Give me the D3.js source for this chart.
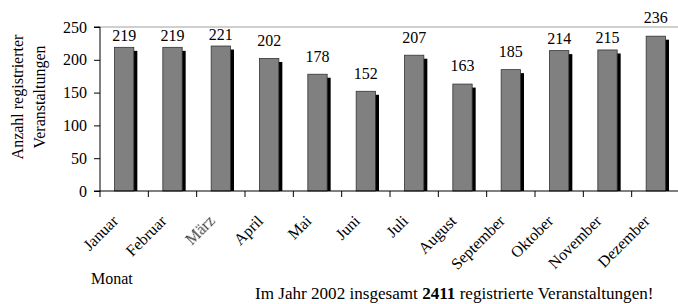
<!DOCTYPE html>
<html>
<head>
<meta charset="utf-8">
<script src="https://cdn.jsdelivr.net/npm/d3@7"></script>
<style>
  body { margin: 0; background: #fff; }
  svg text { font-family: "Liberation Serif", "Times New Roman", serif; fill: #000; }
</style>
</head>
<body>
<div id="chart"></div>
<script>
const months = ["Januar", "Februar", "März", "April", "Mai", "Juni", "Juli",
  "August", "September", "Oktober", "November", "Dezember"];
const counts = [219, 219, 221, 202, 178, 152, 207, 163, 185, 214, 215, 236];
const yTicks = [0, 50, 100, 150, 200, 250];
const total = 2411;

//dimension margins
const W = 678, H = 304;
const margin = {top: 27, right: -2, bottom: 113, left: 100};
const width = W - margin.left - margin.right;
const height = H - margin.top - margin.bottom;

const svg = d3.select("#chart")
  .append("svg")
  .attr("width", W)
  .attr("height", H)
  .attr("font-family", "Liberation Serif, serif");

// blur used for the fuzzy "März" label
const defs = svg.append("defs");
defs.append("filter").attr("id", "fuzz")
  .append("feGaussianBlur").attr("stdDeviation", 0.6);

const g = svg.append("g")
  .attr("transform", `translate(${margin.left},${margin.top})`);

//scales
const x = d3.scaleBand()
  .domain(months)
  .range([0, width]);

const y = d3.scaleLinear()
  .domain([0, 250])
  .range([height, 0]);

const barW = x.bandwidth() * 0.4;
const shadow = 3.5;

// top gridline
g.append("line")
  .attr("x1", 0).attr("x2", width)
  .attr("y1", y(250)).attr("y2", y(250))
  .attr("stroke", "#a0a0a0").attr("stroke-width", 1);

// shadows
g.selectAll(".shadow")
  .data(counts)
  .enter().append("rect")
  .attr("class", "shadow")
  .attr("x", (d, i) => x(months[i]) + (x.bandwidth() - barW) / 2 + shadow)
  .attr("y", d => y(d) + shadow)
  .attr("width", barW)
  .attr("height", d => height - y(d) - shadow)
  .attr("fill", "#000");

// bars
g.selectAll(".bar")
  .data(counts)
  .enter().append("rect")
  .attr("class", "bar")
  .attr("x", (d, i) => x(months[i]) + (x.bandwidth() - barW) / 2)
  .attr("y", d => y(d))
  .attr("width", barW)
  .attr("height", d => height - y(d))
  .attr("fill", "#808080")
  .attr("stroke", "#333")
  .attr("stroke-width", 0.8);

// value labels (pushed under the top line when they would cross it)
g.selectAll(".val")
  .data(counts)
  .enter().append("text")
  .attr("class", "val")
  .attr("x", (d, i) => x(months[i]) + x.bandwidth() / 2)
  .attr("y", d => {
    const b = y(d) - 12.7;
    return (b > y(250) - 1 && b - 11 < y(250)) ? y(d) - 6.5 : b;
  })
  .attr("text-anchor", "middle")
  .style("font-size", "16px")
  .text(d => d);

// y axis
const yAxis = g.append("g")
  .call(d3.axisLeft(y).tickValues(yTicks).tickSize(6).tickPadding(7));
yAxis.attr("font-family", null).attr("font-size", null);
yAxis.select(".domain").attr("d", `M-6,${y(250)}H0V${height}`);
yAxis.selectAll("text").style("font-size", "16px");

// x axis: ticks at band boundaries
const xAxis = g.append("g")
  .attr("transform", `translate(0,${height})`);
xAxis.append("line")
  .attr("x1", -6).attr("x2", width)
  .attr("stroke", "#000").attr("stroke-width", 1.2);
xAxis.selectAll(".tk")
  .data(months)
  .enter().append("line")
  .attr("x1", d => x(d)).attr("x2", d => x(d))
  .attr("y1", 0).attr("y2", 6)
  .attr("stroke", "#000");
xAxis.selectAll(".lab")
  .data(months)
  .enter().append("text")
  .attr("transform", d => `translate(${x(d) + x.bandwidth() / 2 - 5},${31}) rotate(-45)`)
  .attr("text-anchor", "end")
  .style("font-size", "16px")
  .attr("filter", d => d === "März" ? "url(#fuzz)" : null)
  .style("fill", d => d === "März" ? "#444" : "#000")
  .text(d => d);

// y axis title
const yt = svg.append("text")
  .attr("transform", "translate(0,97) rotate(-90)")
  .attr("text-anchor", "middle")
  .style("font-size", "16px");
yt.append("tspan").attr("x", 0).attr("y", 23).text("Anzahl registrierter");
yt.append("tspan").attr("x", 0).attr("y", 45).text("Veranstaltungen");

// x axis title
svg.append("text")
  .attr("x", 91).attr("y", 284)
  .style("font-size", "16px")
  .text("Monat");

// footer
const ft = svg.append("text")
  .attr("x", 255).attr("y", 299)
  .style("font-size", "17.1px");
ft.append("tspan").text("Im Jahr 2002 insgesamt ");
ft.append("tspan").style("font-weight", "bold").text(total);
ft.append("tspan").text(" registrierte Veranstaltungen!");
</script>
</body>
</html>
